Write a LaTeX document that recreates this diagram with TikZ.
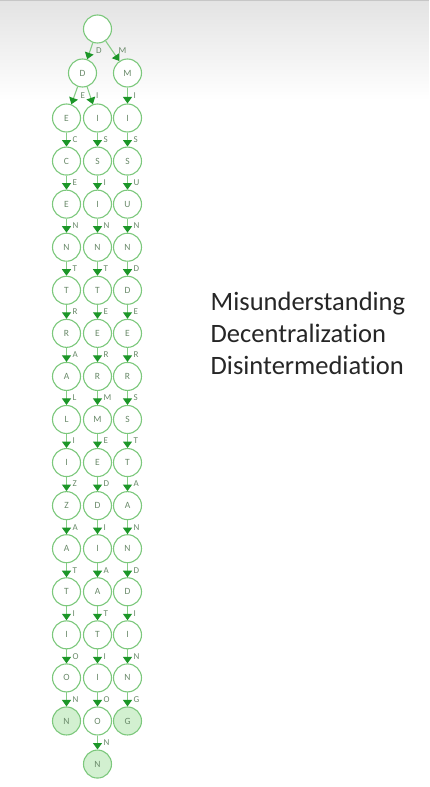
\documentclass[tikz,border=0pt]{standalone}
\usepackage{fontspec}
\setmainfont{Carlito}[Ligatures={NoCommon,NoDiscretionary}]
\usetikzlibrary{arrows.meta}
\definecolor{ring}{HTML}{7CC87C}
\definecolor{wire}{HTML}{86CC86}
\definecolor{tipgreen}{HTML}{1C9628}
\definecolor{glyph}{HTML}{6A8A6A}
\definecolor{endfill}{HTML}{D2F0D0}
\tikzset{
  tn/.style={circle, draw=ring, line width=1.1pt, fill=white, minimum size=28pt,
    inner sep=0pt, font=\fontsize{9.5}{9.5}\selectfont, text=glyph},
  fin/.style={tn, fill=endfill},
  link/.style={draw=wire, line width=1.1pt, -{Triangle[width=9pt,length=6.5pt,color=tipgreen]}},
  lbl/.style={pos=0.5, anchor=west, inner sep=0pt, xshift=5.5pt,
    font=\fontsize{9}{9}\selectfont, text=glyph},
  word/.style={anchor=base west, font=\fontsize{26.5}{26.5}\selectfont,
    text=black!85, inner sep=0pt}
}
\begin{document}
\begin{tikzpicture}[x=1pt, y=-1pt]
  % page and header shading
  \fill[white] (0,0) rectangle (428,787);
  \shade[top color=gray!22, bottom color=white] (0,0) rectangle (428,100);
  \draw[gray!45, line width=1pt] (0,0.5) -- (428,0.5);
  \useasboundingbox (0,0) rectangle (428,787);

  % root and first letters
  \node[tn] (root) at (97,29) {};
  \node[tn] (d) at (82,73) {D};
  \node[tn] (m) at (127,73) {M};
  \draw[link] (root) -- node[lbl]{D} (d);
  \draw[link] (root) -- node[lbl]{M} (m);

  % Decentralization branch
  \foreach \l [count=\i] in {E,C,E,N,T,R,A,L,I,Z,A,T,I,O,N} {
    \edef\sty{\ifnum\i=15 fin\else tn\fi}
    \node[\sty] (a\i) at (66, {118+43.07*(\i-1)}) {\l};
    \ifnum\i>1
      \pgfmathtruncatemacro\j{\i-1}
      \draw[link] (a\j) -- node[lbl]{\l} (a\i);
    \fi
  }
  \draw[link] (d) -- node[lbl]{E} (a1);

  % Disintermediation branch
  \foreach \l [count=\i] in {I,S,I,N,T,E,R,M,E,D,I,A,T,I,O,N} {
    \edef\sty{\ifnum\i=16 fin\else tn\fi}
    \node[\sty] (b\i) at (97, {118+43.07*(\i-1)}) {\l};
    \ifnum\i>1
      \pgfmathtruncatemacro\j{\i-1}
      \draw[link] (b\j) -- node[lbl]{\l} (b\i);
    \fi
  }
  \draw[link] (d) -- node[lbl]{I} (b1);

  % Misunderstanding branch
  \foreach \l [count=\i] in {I,S,U,N,D,E,R,S,T,A,N,D,I,N,G} {
    \edef\sty{\ifnum\i=15 fin\else tn\fi}
    \node[\sty] (c\i) at (127, {118+43.07*(\i-1)}) {\l};
    \ifnum\i>1
      \pgfmathtruncatemacro\j{\i-1}
      \draw[link] (c\j) -- node[lbl]{\l} (c\i);
    \fi
  }
  \draw[link] (m) -- node[lbl]{I} (c1);

  % word list
  \node[word] (w1) at (210,310) {Misunderstanding};
  \node[word] (w2) at (210,342) {Decentralization};
  \node[word] (w3) at (210,374) {Disintermediation};
\end{tikzpicture}
\end{document}
